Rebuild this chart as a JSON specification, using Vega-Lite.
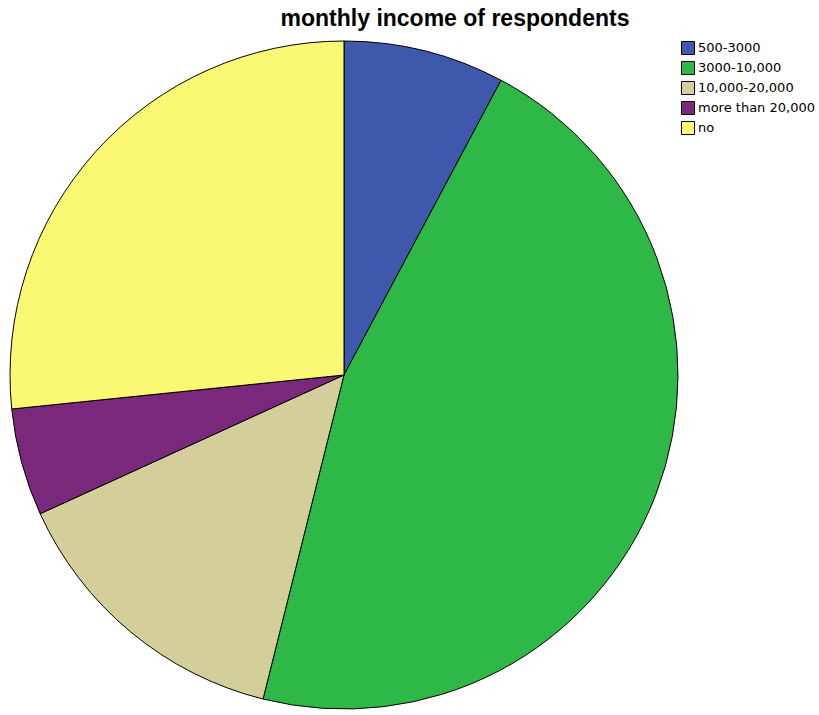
{
  "$schema": "https://vega.github.io/schema/vega-lite/v6.json",
  "width": 668,
  "height": 668,
  "padding": {"left": 8, "top": 8, "right": 0, "bottom": 0},
  "background": "white",
  "title": {"text": "monthly income of respondents", "font": "Liberation Sans", "fontSize": 23, "fontWeight": "bold", "color": "#000000", "anchor": "middle", "dx": 111, "offset": 8},
  "data": {"values": [
    {"income": "500-3000", "count": 12, "k": 1},
    {"income": "3000-10,000", "count": 71, "k": 2},
    {"income": "10,000-20,000", "count": 22, "k": 3},
    {"income": "more than 20,000", "count": 8, "k": 4},
    {"income": "no", "count": 41, "k": 5}
  ]},
  "mark": {"type": "arc", "stroke": "#000000", "strokeWidth": 1},
  "encoding": {
    "theta": {"field": "count", "type": "quantitative", "stack": true},
    "order": {"field": "k", "type": "quantitative"},
    "color": {
      "field": "income", "type": "nominal",
      "scale": {"domain": ["500-3000", "3000-10,000", "10,000-20,000", "more than 20,000", "no"],
                "range": ["#3E58AC", "#2EB848", "#D4CE9A", "#79287B", "#FBF873"]},
      "legend": {"title": null, "orient": "none", "legendX": 671, "legendY": 0, "symbolType": "square", "symbolSize": 169, "symbolStrokeColor": "#000000", "symbolStrokeWidth": 1, "labelFont": "DejaVu Sans", "labelFontSize": 13, "labelColor": "#000000", "rowPadding": 2, "labelOffset": 3}
    }
  },
  "config": {"view": {"stroke": null}}
}
